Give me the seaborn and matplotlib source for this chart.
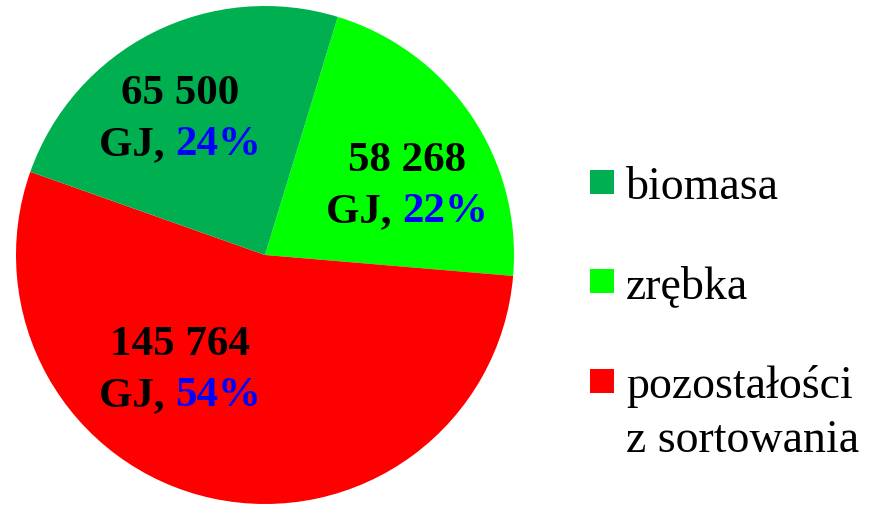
import matplotlib
matplotlib.use("Agg")
import matplotlib.pyplot as plt
import seaborn as sns
from matplotlib.patches import Rectangle
from matplotlib.offsetbox import TextArea, HPacker, VPacker, AnnotationBbox

# data (clockwise from the top: zrębka, pozostałości, biomasa)
categories = ["zrębka", "pozostałości\nz sortowania", "biomasa"]
values_gj = [58268, 145764, 65500]
value_labels = ["58 268", "145 764", "65 500"]
pct_labels = ["22%", "54%", "24%"]
colors = ["#00FF00", "#FF0000", "#00B050"]

legend_order = [2, 0, 1]

sns.set_style("white")
plt.rcParams["font.family"] = ["Liberation Serif", "DejaVu Serif"]
plt.rcParams["text.color"] = "black"

fig = plt.figure(figsize=(8.73, 5.09), dpi=100)
ax = fig.add_axes([16 / 873, 5 / 509, 498 / 873, 498 / 509])

wedges, _ = ax.pie(values_gj, colors=colors, startangle=73, counterclock=False,
                   wedgeprops=dict(linewidth=0))
ax.set_aspect("equal")
ax.set_xlim(-1, 1)
ax.set_ylim(-1, 1)
ax.axis("off")

# label positions inside slices
label_pos = [(0.57, 0.275), (-0.34, -0.465), (-0.34, 0.545)]
tp = dict(fontsize=31, fontweight="bold", color="black")
for i in range(len(values_gj)):
    line1 = TextArea(value_labels[i], textprops=tp)
    line2 = HPacker(children=[TextArea("GJ, ", textprops=tp),
                              TextArea(pct_labels[i], textprops=dict(tp, color="#0000FF"))],
                    align="baseline", pad=0, sep=0)
    box = VPacker(children=[line1, line2], align="center", pad=0, sep=9.5)
    ab = AnnotationBbox(box, label_pos[i], xycoords="data", frameon=False,
                        box_alignment=(0.5, 0.5))
    ax.add_artist(ab)

# legend drawn by hand so the marker sits on the first text line
leg_y = [199, 298, 398]
for k, i in enumerate(legend_order):
    base = 1 - leg_y[k] / 509
    fig.add_artist(Rectangle((590 / 873, base + 5 / 509), 24 / 873, 24 / 509,
                             transform=fig.transFigure, color=colors[i], lw=0))
    for j, line in enumerate(categories[i].split("\n")):
        fig.text(626 / 873, base - j * 54 / 509, line, fontsize=33,
                 va="baseline", ha="left", color="black")

fig.savefig("out.png", dpi=100)
